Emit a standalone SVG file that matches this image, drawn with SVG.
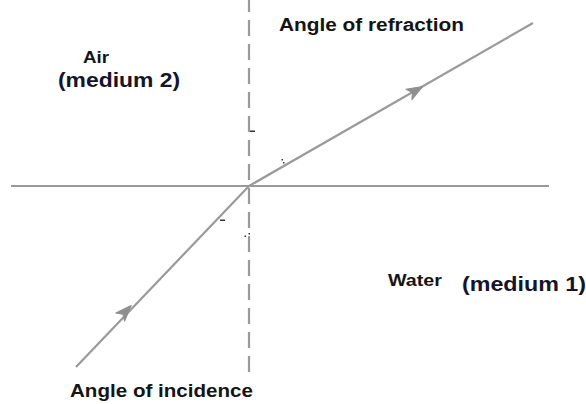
<svg xmlns="http://www.w3.org/2000/svg" width="586" height="404" viewBox="0 0 586 404">
<style>
.ln{stroke:#9a9a9a;stroke-width:2.2;fill:none}
.dash{stroke-dasharray:16 8}
.ah{fill:#8f8f8f;stroke:#8f8f8f;stroke-width:1;stroke-linejoin:round}
.lbl{font-family:"Liberation Sans",Arial,sans-serif;font-weight:bold;fill:#141414}
.med{font-family:"Liberation Sans",Arial,sans-serif;font-weight:bold;fill:#14142a}
.mk{fill:#333}
</style>
<rect width="586" height="404" fill="#ffffff"/>
<g id="connectors">
<line id="surface" class="ln" x1="11" y1="186" x2="549" y2="186"/>
<line id="normal" class="ln dash" x1="249" y1="-4" x2="249" y2="372"/>
<line id="incident-ray" class="ln" x1="76" y1="367" x2="249" y2="186"/>
<line id="refracted-ray" class="ln" x1="249" y1="186" x2="533" y2="23"/>
<path class="ah" transform="translate(125,312) rotate(-46.5)" d="M9,0 L-7,-6 L-3,0 L-7,6 Z"/>
<path class="ah" transform="translate(415,91) rotate(-29.7)" d="M9,0 L-7,-6 L-3,0 L-7,6 Z"/>
</g>
<g id="marks">
<rect class="mk" x="250" y="130.5" width="5" height="1.5"/>
<rect class="mk" x="281.5" y="159" width="1.5" height="1.5"/>
<rect class="mk" x="283" y="162" width="1.5" height="1.5"/>
<rect class="mk" x="220" y="219.5" width="5" height="1.5"/>
<rect class="mk" x="244.5" y="235.5" width="1.5" height="1.5"/>
<rect class="mk" x="248.5" y="233" width="1.5" height="1.5"/>
</g>
<g id="air">
<text class="lbl" x="83" y="63" font-size="17" textLength="26" lengthAdjust="spacingAndGlyphs">Air</text>
<text class="med" x="58" y="87" font-size="20" textLength="122" lengthAdjust="spacingAndGlyphs">(medium 2)</text>
</g>
<g id="water">
<text class="lbl" x="388" y="286" font-size="17" textLength="54" lengthAdjust="spacingAndGlyphs">Water</text>
<text class="med" x="462" y="291" font-size="21" textLength="124" lengthAdjust="spacingAndGlyphs">(medium 1)</text>
</g>
<g id="angle-refraction">
<text class="lbl" x="279" y="31" font-size="18" textLength="185" lengthAdjust="spacingAndGlyphs">Angle of refraction</text>
</g>
<g id="angle-incidence">
<text class="lbl" x="70" y="397" font-size="18" textLength="183" lengthAdjust="spacingAndGlyphs">Angle of incidence</text>
</g>
</svg>
